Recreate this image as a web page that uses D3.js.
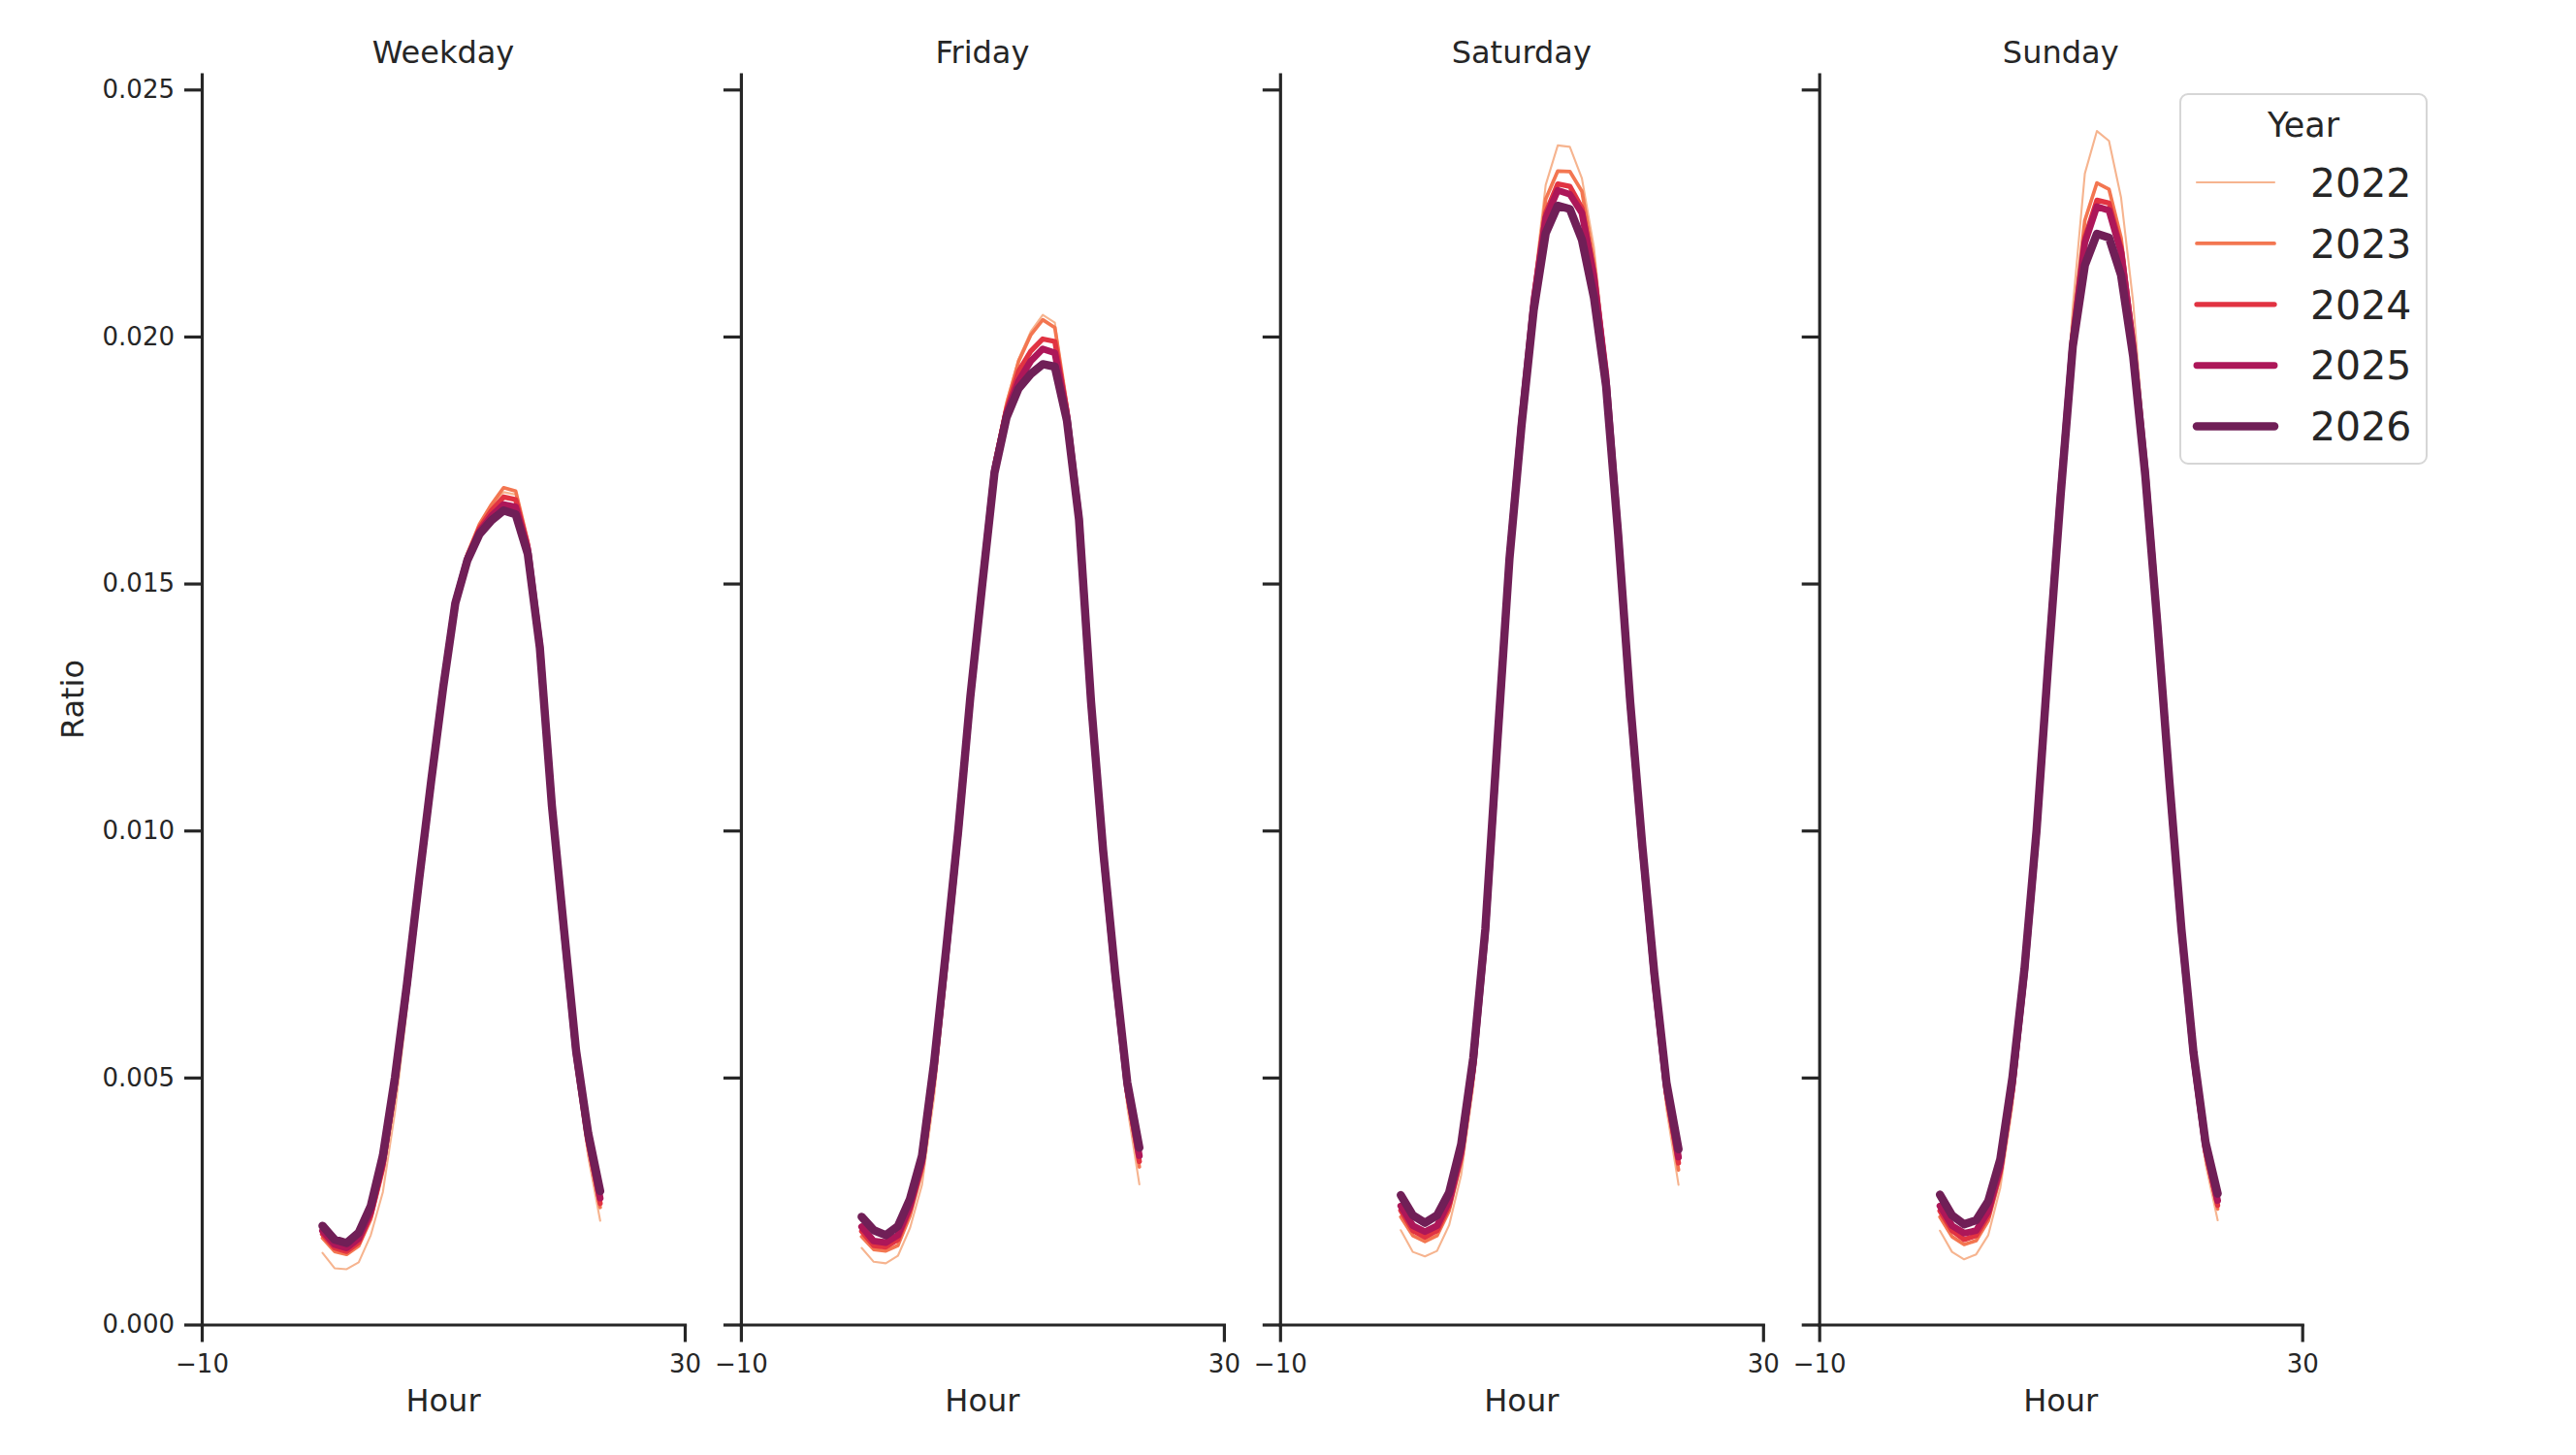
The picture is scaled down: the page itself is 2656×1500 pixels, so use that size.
<!DOCTYPE html>
<html>
<head>
<meta charset="utf-8">
<script src="https://cdn.jsdelivr.net/npm/d3@7/dist/d3.min.js"></script>
<style>
  html, body { margin: 0; padding: 0; background: #fff; }
  svg { display: block; }
  text { font-family: "DejaVu Sans", sans-serif; fill: #262626; }
</style>
</head>
<body>
<script>
// ---------------- DATA ----------------
const days = ["Weekday", "Friday", "Saturday", "Sunday"];
const years = [2022, 2023, 2024, 2025, 2026];
const hours = [0,1,2,3,4,5,6,7,8,9,10,11,12,13,14,15,16,17,18,19,20,21,22,23];
const yTickValues = [0, 0.005, 0.010, 0.015, 0.020, 0.025];
const xTickValues = [-10, 30];

const weekday_2022 = [0.00145,0.00114,0.00112,0.00126,0.00181,0.00268,0.00430,0.00640,0.00870,0.01085,0.01290,0.01468,0.01560,0.01620,0.01655,0.01685,0.01680,0.01580,0.01372,0.01035,0.00770,0.00515,0.00340,0.00210];
const weekday_2023 = [0.00175,0.00148,0.00142,0.00159,0.00213,0.00310,0.00470,0.00670,0.00888,0.01095,0.01293,0.01468,0.01560,0.01620,0.01660,0.01694,0.01687,0.01585,0.01380,0.01045,0.00785,0.00532,0.00362,0.00237];
const weekday_2024 = [0.00183,0.00155,0.00148,0.00166,0.00221,0.00320,0.00480,0.00678,0.00893,0.01098,0.01292,0.01464,0.01555,0.01612,0.01648,0.01675,0.01670,0.01578,0.01378,0.01048,0.00790,0.00540,0.00370,0.00245];
const weekday_2025 = [0.00190,0.00162,0.00155,0.00174,0.00229,0.00330,0.00490,0.00685,0.00898,0.01100,0.01292,0.01462,0.01550,0.01605,0.01637,0.01660,0.01655,0.01570,0.01375,0.01050,0.00795,0.00548,0.00378,0.00256];
const weekday_2026 = [0.00200,0.00172,0.00165,0.00186,0.00240,0.00342,0.00500,0.00690,0.00900,0.01100,0.01290,0.01460,0.01547,0.01600,0.01628,0.01648,0.01640,0.01560,0.01370,0.01050,0.00800,0.00555,0.00388,0.00270];

const friday_2022 = [0.00155,0.00127,0.00124,0.00139,0.00195,0.00283,0.00460,0.00705,0.00965,0.01250,0.01505,0.01750,0.01870,0.01954,0.02010,0.02044,0.02028,0.01855,0.01635,0.01238,0.00928,0.00668,0.00440,0.00284];
const friday_2023 = [0.00178,0.00152,0.00149,0.00160,0.00220,0.00310,0.00495,0.00735,0.00985,0.01262,0.01508,0.01745,0.01862,0.01950,0.02003,0.02034,0.02018,0.01860,0.01645,0.01250,0.00943,0.00688,0.00462,0.00319];
const friday_2024 = [0.00189,0.00160,0.00157,0.00172,0.00232,0.00322,0.00505,0.00742,0.00990,0.01265,0.01505,0.01736,0.01852,0.01930,0.01970,0.01995,0.01990,0.01850,0.01640,0.01255,0.00950,0.00695,0.00472,0.00330];
const friday_2025 = [0.00198,0.00169,0.00166,0.00181,0.00240,0.00330,0.00515,0.00750,0.00995,0.01268,0.01502,0.01730,0.01845,0.01910,0.01950,0.01975,0.01967,0.01840,0.01635,0.01258,0.00955,0.00702,0.00480,0.00342];
const friday_2026 = [0.00218,0.00191,0.00181,0.00199,0.00254,0.00342,0.00530,0.00760,0.01000,0.01270,0.01500,0.01724,0.01836,0.01895,0.01924,0.01944,0.01939,0.01830,0.01630,0.01260,0.00960,0.00710,0.00490,0.00358];

const saturday_2022 = [0.00191,0.00147,0.00138,0.00149,0.00201,0.00303,0.00480,0.00755,0.01150,0.01550,0.01845,0.02100,0.02307,0.02387,0.02384,0.02320,0.02180,0.01945,0.01610,0.01240,0.00938,0.00668,0.00436,0.00283];
const saturday_2023 = [0.00218,0.00180,0.00168,0.00180,0.00230,0.00330,0.00505,0.00775,0.01165,0.01555,0.01840,0.02085,0.02278,0.02335,0.02334,0.02294,0.02150,0.01935,0.01610,0.01248,0.00950,0.00685,0.00458,0.00313];
const saturday_2024 = [0.00231,0.00190,0.00177,0.00190,0.00240,0.00340,0.00515,0.00782,0.01170,0.01553,0.01835,0.02078,0.02250,0.02309,0.02304,0.02260,0.02130,0.01928,0.01608,0.01252,0.00956,0.00692,0.00468,0.00327];
const saturday_2025 = [0.00240,0.00200,0.00188,0.00200,0.00250,0.00350,0.00525,0.00790,0.01175,0.01552,0.01830,0.02070,0.02240,0.02296,0.02288,0.02250,0.02120,0.01920,0.01605,0.01255,0.00962,0.00700,0.00478,0.00339];
const saturday_2026 = [0.00262,0.00221,0.00206,0.00221,0.00267,0.00365,0.00540,0.00800,0.01180,0.01550,0.01820,0.02052,0.02209,0.02265,0.02258,0.02196,0.02078,0.01900,0.01600,0.01260,0.00970,0.00710,0.00490,0.00355];

const sunday_2022 = [0.00190,0.00147,0.00132,0.00142,0.00181,0.00277,0.00440,0.00675,0.00970,0.01350,0.01710,0.02060,0.02330,0.02416,0.02396,0.02281,0.02070,0.01760,0.01430,0.01085,0.00772,0.00512,0.00325,0.00211];
const sunday_2023 = [0.00218,0.00178,0.00162,0.00170,0.00210,0.00300,0.00465,0.00695,0.00985,0.01356,0.01700,0.02020,0.02235,0.02311,0.02298,0.02200,0.02000,0.01740,0.01430,0.01092,0.00785,0.00528,0.00343,0.00234];
const sunday_2024 = [0.00230,0.00190,0.00172,0.00180,0.00220,0.00310,0.00475,0.00702,0.00990,0.01354,0.01695,0.02000,0.02200,0.02276,0.02270,0.02180,0.01990,0.01735,0.01428,0.01095,0.00790,0.00535,0.00350,0.00241];
const sunday_2025 = [0.00240,0.00200,0.00185,0.00190,0.00230,0.00320,0.00485,0.00710,0.00995,0.01352,0.01690,0.01990,0.02190,0.02263,0.02255,0.02170,0.01980,0.01730,0.01425,0.01098,0.00795,0.00542,0.00358,0.00251];
const sunday_2026 = [0.00263,0.00221,0.00203,0.00211,0.00250,0.00335,0.00500,0.00720,0.01000,0.01350,0.01680,0.01980,0.02144,0.02208,0.02200,0.02124,0.01960,0.01720,0.01420,0.01100,0.00800,0.00550,0.00368,0.00265];

const seriesByDay = {
  Weekday:  [weekday_2022, weekday_2023, weekday_2024, weekday_2025, weekday_2026],
  Friday:   [friday_2022, friday_2023, friday_2024, friday_2025, friday_2026],
  Saturday: [saturday_2022, saturday_2023, saturday_2024, saturday_2025, saturday_2026],
  Sunday:   [sunday_2022, sunday_2023, sunday_2024, sunday_2025, sunday_2026]
};

// ---------------- STYLE ----------------
const colors = ["#f6b48f", "#f37651", "#e13342", "#ad1759", "#701f57"];
const widths = [2.1, 3.7, 5.3, 6.9, 8.5];
const ink = "#262626";

const W = 2656, H = 1500;
const panelLeft = 208, panelStep = 555.9, panelW = 498;
const yTop = 76.5, yBot = 1365.5;

const svg = d3.select("body").append("svg").attr("width", W).attr("height", H);
svg.append("rect").attr("width", W).attr("height", H).attr("fill", "#ffffff");

const y = d3.scaleLinear().domain([0, 0.02531]).range([yBot, yTop]);

days.forEach((day, i) => {
  const x0 = panelLeft + i * panelStep;
  const x = d3.scaleLinear().domain([-10, 30]).range([x0, x0 + panelW]);
  const g = svg.append("g");

  const line = d3.line().x((d, k) => x(hours[k])).y(d => y(d));
  seriesByDay[day].forEach((vals, j) => {
    g.append("path")
      .datum(vals)
      .attr("d", line)
      .attr("fill", "none")
      .attr("stroke", colors[j])
      .attr("stroke-width", widths[j])
      .attr("stroke-linejoin", "round")
      .attr("stroke-linecap", "round");
  });

  // y axis
  const yAxis = d3.axisLeft(y).tickValues(yTickValues).tickSize(18).tickSizeOuter(0).tickPadding(10)
    .tickFormat(i === 0 ? d3.format(".3f") : () => "");
  const gy = g.append("g").attr("transform", `translate(${x0},0)`).call(yAxis);
  // x axis
  const xAxis = d3.axisBottom(x).tickValues(xTickValues).tickSize(18).tickSizeOuter(0).tickPadding(13);
  const gx = g.append("g").attr("transform", `translate(0,${yBot})`).call(xAxis);

  [gy, gx].forEach(ax => {
    ax.attr("font-family", null).attr("font-size", null);
    ax.select(".domain").attr("stroke", ink).attr("stroke-width", 3.2).attr("stroke-linecap", "square");
    ax.selectAll(".tick line").attr("stroke", ink).attr("stroke-width", 3.2);
    ax.selectAll(".tick text").attr("fill", ink).style("font-size", "26px")
      .style("font-family", "'DejaVu Sans', sans-serif");
  });

  // title
  svg.append("text").attr("x", x0 + panelW / 2).attr("y", 65)
    .attr("text-anchor", "middle").style("font-size", "32px").text(day);
  // x label
  svg.append("text").attr("x", x0 + panelW / 2).attr("y", 1455)
    .attr("text-anchor", "middle").style("font-size", "32px").text("Hour");
  if (i === 0) {
    svg.append("text").attr("transform", `translate(86,${(yTop + yBot) / 2}) rotate(-90)`)
      .attr("text-anchor", "middle").style("font-size", "32px").text("Ratio");
  }
});

// ---------------- LEGEND ----------------
const lg = svg.append("g");
lg.append("rect").attr("x", 2248).attr("y", 97).attr("width", 254).attr("height", 381)
  .attr("rx", 8).attr("fill", "#ffffff").attr("fill-opacity", 0.8)
  .attr("stroke", "#d6d6d6").attr("stroke-width", 2);
lg.append("text").attr("x", 2375).attr("y", 141).attr("text-anchor", "middle")
  .style("font-size", "35px").text("Year");
years.forEach((yr, j) => {
  const cy = 188 + j * 62.9;
  lg.append("line").attr("x1", 2265).attr("x2", 2345).attr("y1", cy).attr("y2", cy)
    .attr("stroke", colors[j]).attr("stroke-width", widths[j]).attr("stroke-linecap", "round");
  lg.append("text").attr("x", 2382).attr("y", cy + 14.7).style("font-size", "41px").text(String(yr));
});
</script>
</body>
</html>
